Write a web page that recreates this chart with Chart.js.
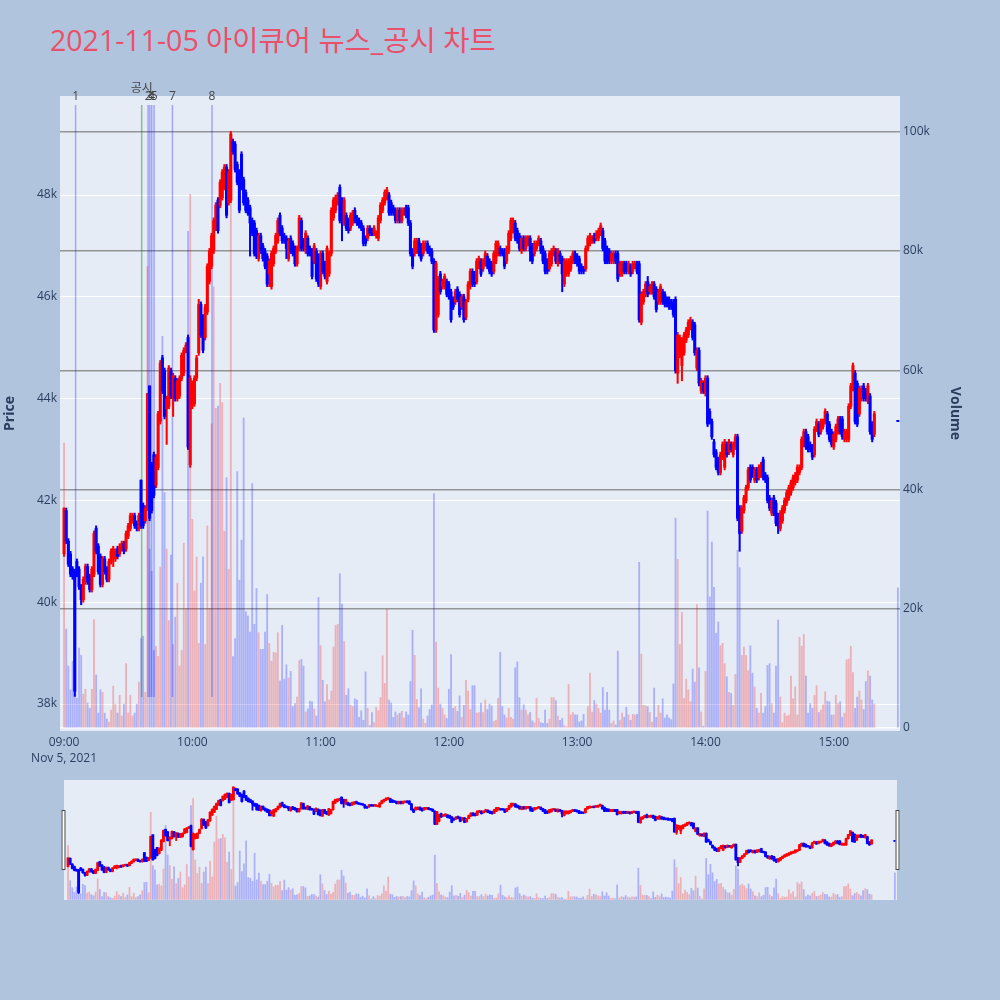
<!DOCTYPE html>
<html><head><meta charset="utf-8">
<script src="https://cdn.jsdelivr.net/npm/chart.js@4.4.1/dist/chart.umd.min.js"></script>
<style>
html,body{margin:0;padding:0;background:#b0c4de;width:1000px;height:1000px;overflow:hidden;}
#title{position:absolute;left:50px;top:23px;font-family:"Open Sans","Noto Sans CJK KR",sans-serif;font-size:28.5px;color:#eb506a;white-space:nowrap;line-height:34px;}
#main{position:absolute;left:0;top:0;width:1000px;height:780px;}
#slider{position:absolute;left:0;top:770px;width:1000px;height:140px;}
</style></head><body>
<div id="title">2021-11-05 아이큐어 뉴스_공시 차트</div>
<canvas id="main" width="1000" height="780"></canvas>
<canvas id="slider" width="1000" height="140"></canvas>
<script>
// ---------- data ----------
const sessionStart = "09:00";
const firstCandle = "09:00";
const dateLabel = "Nov 5, 2021";
const hourTicks = ["09:00","10:00","11:00","12:00","13:00","14:00","15:00"];
const xAxisRange = ["08:58:06","15:31:00"];
const priceTicks = [38000,40000,42000,44000,46000,48000];
const priceTickLabels = ["38k","40k","42k","44k","46k","48k"];
const priceAxisRange = [37470,49945];
const volumeTicks = [0,20000,40000,60000,80000,100000];
const volumeTickLabels = ["0","20k","40k","60k","80k","100k"];
const volumeAxisRange = [-500,106000];

const opens = [
40950,41800,41200,40950,40650,40600,40800,40650,40300,40050,
40400,40700,40500,40250,40550,41450,41100,40900,40350,40850,
40650,40450,40800,40900,40850,41050,40950,41050,41150,41050,
41300,41450,41600,41700,41550,41450,42400,41900,41600,41850,
44250,42700,42900,42300,42650,43550,44800,44550,43800,43850,
44550,44050,44400,44000,44050,44400,44500,44950,45200,42700,
43850,43900,44400,44900,45850,45600,45200,45700,46300,46600,
46900,47350,47900,47800,47950,48150,48550,47850,47900,49050,
49000,48600,48450,48800,48300,48050,47900,47750,47500,47450,
47300,46750,47200,47000,46900,46800,46450,46200,46650,46900,
47100,47600,47350,47200,47150,46750,47150,47050,46950,46650,
46950,47500,47100,46900,47150,46950,46900,46700,46900,46800,
46200,46850,46650,46300,46450,46850,47550,47700,47850,48150,
47900,47450,47600,47500,47350,47450,47700,47550,47500,47450,
47350,47150,47150,47350,47300,47250,47200,47150,47500,47700,
47850,47950,48000,47850,47750,47700,47500,47700,47500,47650,
47750,47750,47450,46900,46850,46900,47100,47000,46850,46950,
47050,46950,46900,46700,45350,45650,46450,46200,46200,46300,
46250,46100,45950,45900,46150,46050,45800,46000,45600,45950,
46200,46500,46450,46300,46600,46700,46550,46650,46800,46700,
46650,46500,46700,46850,46950,46900,46900,46700,46900,47150,
47300,47450,47300,47200,46900,47150,46950,47050,47150,47000,
46850,46950,47050,47100,46950,46850,46700,46550,46650,46850,
46900,46650,46850,46750,46250,46450,46450,46550,46700,46850,
46800,46750,46600,46550,46550,46950,47050,47100,47200,47150,
47150,47250,47300,47100,46950,46900,46700,46700,46850,46850,
46450,46450,46650,46650,46500,46600,46500,46600,46650,46650,
45500,45900,46050,46300,46100,46100,46250,46150,45900,45900,
46100,46050,45950,45950,45900,45900,45950,44500,44850,44650,
44900,45150,45250,45400,45500,45450,44600,44950,44150,44300,
44100,44400,43750,43550,43150,42950,42800,42550,42850,42650,
43100,42950,43100,42900,43050,43250,41850,41400,41800,42000,
42250,42650,42650,42400,42600,42450,42500,42800,42500,42450,
42050,41750,42050,41950,41700,41450,41600,41800,41950,42050,
42150,42250,42350,42400,42550,42650,43100,43350,43250,43100,
43050,42900,43400,43500,43350,43450,43550,43700,43500,43350,
43050,43200,43350,43600,43600,43200,43200,43200,43850,44200,
44500,44300,43700,44000,44250,44150,43950,44050,43500,43300
];
const highs = [
41850,41850,41250,41000,40700,40650,40850,40700,40350,40500,
40750,40750,40550,40700,41400,41500,41150,40950,40900,40900,
40700,40850,41050,41100,41050,41100,41150,41200,41200,41400,
41550,41750,41750,41750,41600,41750,42400,41950,41900,44100,
44250,42750,42950,42900,43750,44750,44850,44600,44050,44650,
44600,44500,44450,44400,44450,44900,45000,45100,45250,44450,
44350,44450,44850,45950,45900,45650,45850,46650,46950,47250,
47550,47850,47950,48300,48500,48600,48600,48500,49250,49100,
49050,48650,48500,48850,48350,48100,47950,47800,47550,47500,
47350,47250,47250,47050,46950,46850,46750,46900,47000,47250,
47550,47650,47400,47250,47200,47150,47200,47100,47000,47000,
47600,47550,47150,47300,47200,47000,46950,47050,46950,46850,
46900,46900,46700,47000,46900,47750,47950,48000,48050,48200,
47950,47950,47650,47550,47650,47700,47750,47600,47550,47500,
47400,47200,47400,47400,47350,47400,47300,47600,47850,47950,
48100,48150,48050,47900,47800,47750,47750,47750,47750,47750,
47800,47800,47500,46950,47150,47150,47150,47050,47100,47100,
47100,47000,46950,46750,46700,46400,46500,46350,46450,46350,
46300,46150,46000,46150,46200,46100,46050,46050,45950,46300,
46550,46550,46500,46750,46800,46750,46750,46900,46850,46750,
46700,46900,47100,47100,47000,46950,46950,47000,47300,47550,
47550,47500,47350,47250,47200,47200,47200,47200,47200,47050,
47100,47100,47200,47150,47000,46900,46750,46900,46950,47000,
46950,46950,46900,46800,46750,46750,46750,46800,46900,46900,
46850,46800,46650,46600,47000,47200,47250,47200,47250,47300,
47350,47450,47350,47150,47000,46950,46900,46900,46900,46900,
46700,46700,46700,46700,46700,46650,46700,46700,46700,46700,
46100,46150,46300,46400,46250,46300,46300,46200,46150,46250,
46150,46100,46000,46000,45950,45950,46000,45300,45250,45200,
45300,45400,45550,45600,45550,45500,45000,45000,44400,44350,
44450,44450,43800,43600,43200,43000,42850,42950,43150,43200,
43150,43200,43150,43150,43300,43300,41900,41900,42100,42300,
42650,42700,42700,42650,42650,42700,42750,42850,42550,42500,
42100,42050,42100,42000,41750,41800,41900,42050,42200,42300,
42400,42500,42550,42700,42700,43250,43400,43400,43300,43150,
43100,43450,43600,43550,43600,43600,43800,43750,43550,43400,
43350,43500,43650,43650,43650,43400,43400,43900,44300,44700,
44550,44350,44250,44250,44300,44200,44300,44100,43550,43750
];
const lows = [
40900,41150,40700,40500,40450,38150,40500,40250,39950,40000,
40350,40350,40200,40200,40500,40950,40550,40300,40300,40550,
40400,40400,40750,40700,40800,40850,40900,41000,40950,41000,
41250,41400,41550,41450,41400,41400,41450,41450,41550,41800,
41600,41750,42050,42250,42600,43500,44100,43600,43100,43800,
44000,43650,43950,43950,44000,44350,44450,44900,43000,42650,
43800,43850,44350,44850,45200,44900,45150,45650,46250,46550,
46850,47300,47250,47750,47900,48100,47550,47800,47850,48800,
48450,48200,47650,48100,47800,47650,47600,46800,47200,46800,
46750,46700,46850,46700,46550,46200,46200,46150,46600,46850,
47050,47200,47050,47050,46750,46700,46850,46800,46600,46600,
46900,46900,46900,46850,46800,46800,46350,46650,46300,46200,
46150,46450,46350,46250,46400,46800,47500,47650,47800,47450,
47100,47400,47300,47250,47300,47400,47450,47400,47350,47300,
47000,47000,47100,47200,47200,47200,47150,47100,47450,47650,
47800,47900,47600,47600,47600,47450,47450,47450,47450,47600,
47550,47400,46800,46550,46800,46850,46800,46700,46800,46900,
46850,46800,46650,45300,45300,45600,46050,46150,46150,46000,
45950,45500,45750,45850,45900,45600,45750,45500,45550,45900,
46150,46200,46200,46250,46550,46400,46500,46600,46550,46450,
46400,46450,46650,46800,46800,46800,46550,46650,46850,47100,
47250,47100,47050,46900,46850,46900,46900,47000,46700,46650,
46800,46900,47000,46850,46650,46450,46450,46500,46600,46800,
46650,46600,46650,46100,46200,46400,46400,46500,46650,46650,
46600,46450,46450,46450,46500,46900,47000,47050,47050,47100,
47100,47200,46900,46650,46650,46650,46650,46650,46650,46300,
46400,46400,46450,46450,46450,46400,46450,46550,46450,45500,
45450,45850,46000,46000,46050,46050,45950,45700,45850,45850,
45850,45800,45800,45750,45750,45600,44500,44300,44800,44350,
44850,45100,45200,45350,45150,44850,44550,44250,44100,44100,
44050,43450,43500,43200,42850,42600,42500,42500,42800,42600,
42850,42900,42950,42850,43000,41600,41000,41350,41750,41950,
42200,42350,42450,42350,42350,42400,42450,42400,42350,41950,
41800,41700,41700,41500,41350,41400,41550,41750,41900,42000,
42100,42200,42300,42350,42500,42600,43050,43000,42950,42950,
42800,42850,43350,43250,43300,43400,43500,43300,43150,43050,
43000,43150,43300,43300,43200,43150,43150,43150,43800,44150,
43500,43450,43650,43950,43950,43950,43900,43300,43150,43250
];
const closes = [
41850,41200,40750,40550,40500,38250,40550,40300,40050,40450,
40700,40400,40250,40650,41350,41000,40600,40350,40850,40600,
40450,40800,41000,41050,41000,40900,41100,41150,41000,41350,
41500,41700,41700,41500,41450,41700,41500,41500,41850,44100,
41650,41800,42100,42850,43700,44700,44150,43650,44000,44600,
44050,44450,44000,44350,44400,44850,44950,45050,43050,44400,
44300,44400,44800,45850,45250,44950,45800,46600,46900,47200,
47500,47800,47300,48250,48450,48550,47600,48450,49200,48850,
48500,48250,47700,48150,47850,47700,47650,47450,47250,46850,
46800,47200,46900,46750,46600,46250,46700,46850,46950,47200,
47500,47250,47100,47100,46950,47100,46900,46850,46650,46950,
47550,46950,46950,47250,46850,46850,46400,47000,46350,46250,
46850,46500,46400,46950,46850,47700,47900,47950,48000,47500,
47550,47900,47350,47300,47600,47650,47500,47450,47400,47350,
47050,47050,47350,47250,47250,47350,47250,47550,47800,47900,
48050,48100,47650,47650,47650,47500,47700,47500,47700,47700,
47600,47450,46850,46600,47100,47100,46850,46750,47050,47050,
46900,46850,46700,45350,46650,46350,46100,46300,46400,46050,
46000,45550,45800,46100,45950,45650,46000,45550,45900,46250,
46500,46250,46250,46700,46750,46450,46700,46850,46600,46500,
46450,46850,47050,47050,46850,46850,46600,46950,47250,47500,
47500,47150,47100,46950,47150,46950,47150,47150,46900,46700,
47050,47050,47150,46900,46700,46500,46500,46850,46900,46950,
46700,46900,46700,46450,46700,46700,46700,46750,46850,46700,
46650,46500,46500,46500,46950,47150,47200,47150,47100,47250,
47300,47400,46950,46700,46700,46700,46850,46850,46700,46350,
46650,46650,46500,46500,46650,46450,46650,46650,46500,45550,
46050,46100,46250,46050,46200,46250,46000,45750,46100,46200,
45900,45850,45850,45800,45800,45650,44550,45250,45200,45150,
45250,45350,45500,45550,45200,44900,44950,44300,44350,44150,
44400,43500,43550,43250,42900,42650,42550,42900,43100,43150,
42900,43150,43000,43100,43250,41650,41350,41850,42050,42250,
42600,42400,42500,42600,42400,42650,42700,42450,42400,42000,
41850,42000,41750,41550,41500,41750,41850,42000,42150,42250,
42350,42450,42500,42650,42650,43200,43350,43050,43000,43000,
42850,43400,43550,43300,43550,43550,43750,43350,43200,43100,
43300,43450,43600,43350,43250,43350,43350,43850,44250,44650,
43550,43500,44200,44200,44000,44000,44250,43350,43200,43700
];
const volumes = [
47800,16600,10400,6400,11200,8000,5000,13400,12200,5700,
6500,4200,3300,6500,18200,8900,2500,6400,6000,2500,
1500,1000,3000,7000,4000,2500,5500,2000,4000,10800,
2500,5500,2000,2500,4000,7700,15000,15400,6000,77400,
30000,26300,13000,13700,12000,27000,65700,39500,30000,18000,
29000,14000,18600,24300,10400,13000,31000,20000,83300,89500,
35000,23000,28700,14200,24300,28700,14000,33900,20000,51000,
74000,53600,54000,57800,54600,33000,42000,26600,88000,12000,
15000,43000,24800,31500,52000,19500,18800,16100,41000,17400,
23400,16000,13200,13200,16100,22400,14200,11200,12700,12600,
16000,7900,17200,8200,10600,8400,9500,3600,4100,5200,
11300,11500,10400,2700,3200,4500,4400,3200,2000,21900,
13800,8000,4400,7300,4700,6200,13600,17200,17400,25900,
20800,14500,5500,6600,3800,3600,4900,4700,1800,2900,
1300,9400,3300,400,2600,900,3500,2900,5100,12100,
7500,19900,4700,4200,1800,2700,2200,2500,2800,1700,
2700,2200,7800,16400,12200,4800,3400,6600,1500,800,
2000,3100,3900,39300,14400,6700,4000,3300,2200,1600,
6500,12300,3300,3600,2800,5400,1800,3800,8000,6200,
3100,7100,7100,2500,2600,4200,2600,4700,3100,4000,
3700,1100,1300,5000,12700,3600,2200,1700,3300,1800,
1500,10100,11100,5100,3000,3900,3000,2200,2600,1200,
900,5000,1600,900,800,3000,800,1500,5100,5100,
4600,2000,1300,1600,400,200,7300,2200,2600,2200,
2200,1000,1200,2300,200,3600,9200,2700,4600,4000,
3300,2500,6800,3000,6000,3000,800,1200,500,12900,
1300,2500,1800,3500,2200,1300,2300,2200,2300,27800,
12400,3800,3700,3600,2600,1000,6700,1800,3800,2500,
4900,1700,2200,1700,1400,7400,35200,28300,14000,19400,
5000,8200,6400,4400,9900,7700,20700,10100,2700,300,
9500,36400,22000,31200,23600,15900,17800,13800,14200,10800,
8600,6000,5800,3800,9000,29800,26900,12200,13600,12200,
9600,13800,9200,6900,3300,2500,5800,2500,3600,10500,
10800,4100,2500,10400,18100,5200,900,2500,2000,2200,
8700,4900,6900,2200,15200,13700,15700,8700,2500,4100,
3300,5500,7100,2600,3000,3900,6100,4500,4400,2200,
2200,5500,4100,4400,1800,2500,11400,11600,13700,9300,
3300,5200,6200,4700,3100,7800,9600,8700,4700,4000
];
// closing auction (15:30)
const auctionTime = ["15:30"];
const auctionOpen = [43550];
const auctionHigh = [43550];
const auctionLow = [43550];
const auctionClose = [43550];
const auctionVolume = [23500];

// news / disclosure markers
const newsTimes = ["09:05:24","09:36:18","09:39:18","09:40:06","09:41:00","09:42:06","09:50:42","10:09:12"];
const newsLabels = ["1","공시","2","3","4","5","7","8"];
const newsKinds = ["news","disclosure","news","news","news","news","news","news"];
const newsLineSpan = [38140,49770];

// ---------- helpers ----------
const FONT = '"Open Sans","Noto Sans CJK KR",sans-serif';
const AXIS_COLOR = '#2a3f5f';
const UP = '#ff0000', DOWN = '#0000ff';
const UP_VOL = 'rgba(255,0,0,0.25)', DOWN_VOL = 'rgba(0,0,255,0.25)';
const PLOT_BG = '#e5ecf6';

function toMinutes(s){ const p = s.split(':').map(Number); return p[0]*60 + p[1] + (p[2]||0)/60; }
const base = toMinutes(sessionStart);
const rel = s => toMinutes(s) - base;

const X = opens.map((_, i) => rel(firstCandle) + i).concat(auctionTime.map(rel));
const O = opens.concat(auctionOpen);
const H = highs.concat(auctionHigh);
const L = lows.concat(auctionLow);
const C = closes.concat(auctionClose);
const V = volumes.concat(auctionVolume);
const rising = C.map((c, i) => c > O[i]);
const candleColors = rising.map(r => r ? UP : DOWN);
const volColors = rising.map(r => r ? UP_VOL : DOWN_VOL);

function candleDatasets(bodyW, wickW, volW, withNews){
  const ds = [];
  ds.push({type:'bar', label:'volume', yAxisID:'vol', order:6, grouped:false,
    data: X.map((x,i)=>({x, y:V[i]})), backgroundColor: volColors, barThickness: volW, borderWidth:0});
  if (withNews){
    newsTimes.forEach((t, k) => {
      ds.push({type:'line', label:'news'+k, yAxisID:'y', order:4,
        data:[{x:rel(t), y:newsLineSpan[0]},{x:rel(t), y:newsLineSpan[1]}],
        borderColor: newsKinds[k]==='disclosure' ? 'rgba(0,128,0,0.4)' : 'rgba(0,0,255,0.3)',
        borderWidth:1.5, pointRadius:0, fill:false});
    });
  }
  ds.push({type:'bar', label:'wick', yAxisID:'y', order:2, grouped:false,
    data: X.map((x,i)=>({x, y:[L[i], H[i]]})), backgroundColor: candleColors, barThickness: wickW, borderWidth:0});
  ds.push({type:'bar', label:'body', yAxisID:'y', order:1, grouped:false, minBarLength:1.2,
    data: X.map((x,i)=>({x, y:[O[i], C[i]]})), backgroundColor: candleColors, barThickness: bodyW, borderWidth:0});
  return ds;
}

const bgPlugin = {id:'bg', beforeDraw(chart){
  const a = chart.chartArea, ctx = chart.ctx;
  ctx.save(); ctx.fillStyle = PLOT_BG; ctx.fillRect(a.left, a.top, a.right-a.left, a.bottom-a.top); ctx.restore();
}};

const newsLabelPlugin = {id:'newsLabels', afterDatasetsDraw(chart){
  const ctx = chart.ctx, xs = chart.scales.x, a = chart.chartArea;
  ctx.save();
  ctx.font = '12px ' + FONT; ctx.fillStyle = '#444'; ctx.textAlign = 'center'; ctx.textBaseline = 'middle';
  newsTimes.forEach((t, k) => {
    const px = xs.getPixelForValue(rel(t));
    const py = newsKinds[k]==='disclosure' ? a.top - 7 : a.top + 1;
    ctx.fillText(newsLabels[k], px, py);
  });
  ctx.restore();
}};

const tickFont = {family: FONT, size: 12};

new Chart(document.getElementById('main'), {
  type:'bar',
  data:{datasets: candleDatasets(2.4, 1.4, 1.2, true)},
  options:{
    responsive:false, animation:false, events:[],
    layout:{padding:{left:0, right:35, top:96, bottom:0}},
    plugins:{legend:{display:false}, tooltip:{enabled:false}},
    scales:{
      x:{type:'linear', offset:false, min: rel(xAxisRange[0]), max: rel(xAxisRange[1]),
        grid:{display:false, drawTicks:false, offset:false}, border:{display:false},
        afterBuildTicks: s => { s.ticks = hourTicks.map(h => ({value: rel(h)})); },
        afterFit: s => { s.height = 49; },
        ticks:{autoSkip:false, maxRotation:0, minRotation:0, padding:3, color: AXIS_COLOR,
          font:{family: FONT, size:12, lineHeight:1.35},
          callback: (v, i) => i === 0 ? [hourTicks[i], dateLabel] : hourTicks[i]}},
      y:{type:'linear', position:'left', min: priceAxisRange[0], max: priceAxisRange[1],
        grid:{color:'#ffffff', lineWidth:1, drawTicks:false}, border:{display:false},
        afterBuildTicks: s => { s.ticks = priceTicks.map(v => ({value:v})); },
        afterFit: s => { s.width = 60; },
        ticks:{padding:3, color: AXIS_COLOR, font: tickFont,
          callback: v => priceTickLabels[priceTicks.indexOf(v)]},
        title:{display:true, text:'Price', color: AXIS_COLOR, font:{family: FONT, size:14, weight:'bold'}, padding:{top:2, bottom:0}}},
      vol:{type:'linear', position:'right', min: volumeAxisRange[0], max: volumeAxisRange[1],
        grid:{color: c => c.tick && c.tick.value === 0 ? 'rgba(255,255,255,0.9)' : 'rgba(90,90,90,0.6)', lineWidth:1.5, drawTicks:false},
        border:{display:false},
        afterBuildTicks: s => { s.ticks = volumeTicks.map(v => ({value:v})); },
        afterFit: s => { s.width = 65; },
        ticks:{padding:3, color: AXIS_COLOR, font: tickFont,
          callback: v => volumeTickLabels[volumeTicks.indexOf(v)]},
        title:{display:true, text:'Volume', color: AXIS_COLOR, font:{family: FONT, size:14, weight:'bold'}, padding:{top:2, bottom:0}}}
    }
  },
  plugins:[bgPlugin, newsLabelPlugin]
});

const handlePlugin = {id:'handles', afterDraw(chart){
  const a = chart.chartArea, ctx = chart.ctx;
  const h0 = a.top + (a.bottom - a.top) * 0.25, hh = (a.bottom - a.top) * 0.5;
  ctx.save(); ctx.fillStyle = '#ffffff'; ctx.strokeStyle = '#444'; ctx.lineWidth = 1;
  [a.left - 2.5, a.right - 1.5].forEach(x => { ctx.fillRect(x, h0, 4, hh); ctx.strokeRect(x + 0.5, h0 + 0.5, 3, hh - 1); });
  ctx.restore();
}};

new Chart(document.getElementById('slider'), {
  type:'bar',
  data:{datasets: candleDatasets(2.2, 1.2, 1.1, false)},
  options:{
    responsive:false, animation:false, events:[],
    layout:{padding:{left:64, right:103, top:10, bottom:10}},
    plugins:{legend:{display:false}, tooltip:{enabled:false}},
    scales:{
      x:{type:'linear', display:false, offset:false, grid:{offset:false}, min: rel(xAxisRange[0]), max: rel(xAxisRange[1])},
      y:{type:'linear', display:false, min: priceAxisRange[0], max: priceAxisRange[1]},
      vol:{type:'linear', display:false, min: volumeAxisRange[0], max: volumeAxisRange[1]}
    }
  },
  plugins:[bgPlugin, handlePlugin]
});
</script>
</body></html>
